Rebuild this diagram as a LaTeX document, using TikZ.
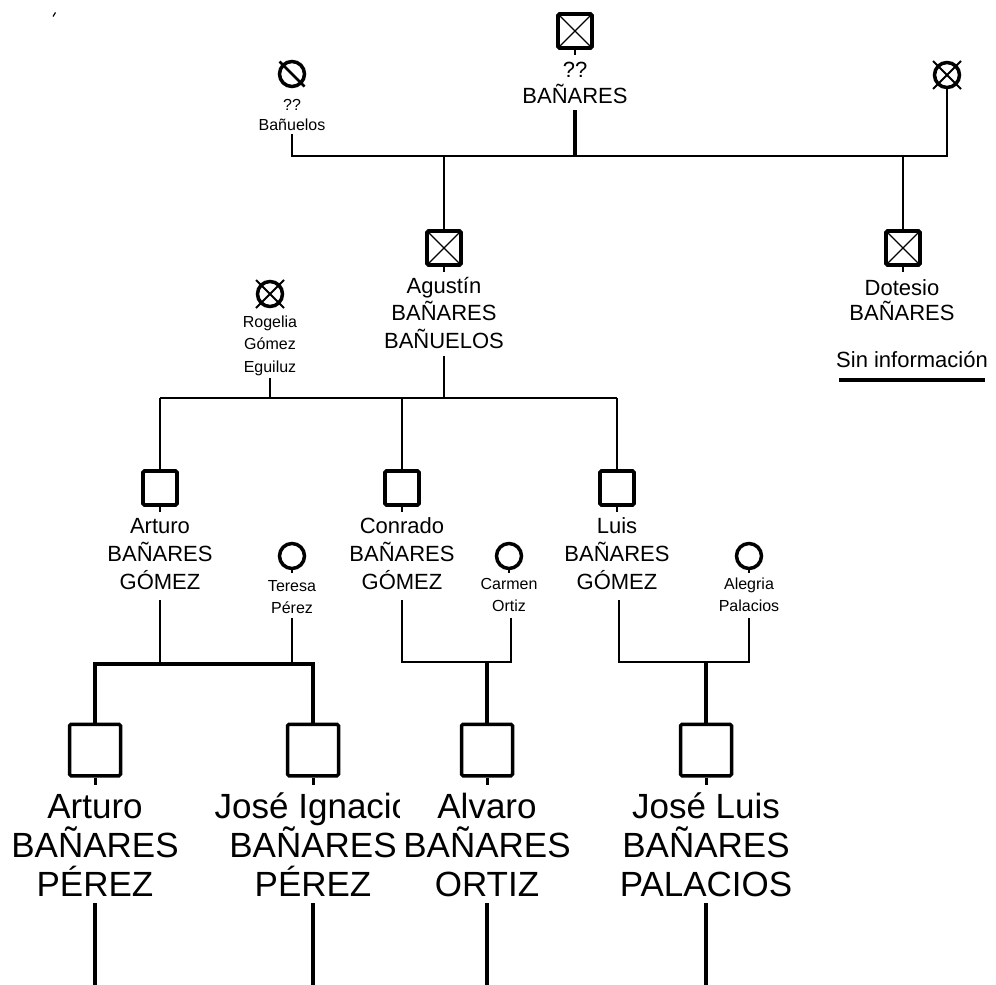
\documentclass[tikz,border=0pt]{standalone}
\usepackage{fontspec}
\setmainfont{Liberation Sans}
\usetikzlibrary{calc}
\begin{document}
\begin{tikzpicture}[x=1pt,y=-1pt,
  thinln/.style={line width=2pt},
  thickln/.style={line width=4pt},
  sq/.style={draw, line width=3.8pt, rounded corners=1.5pt, minimum size=34pt, inner sep=0pt},
  bigsq/.style={draw, line width=3.5pt, rounded corners=1.5pt, minimum width=51pt, minimum height=51.5pt, inner sep=0pt},
  xsq/.style={sq, path picture={\draw[line width=1.3pt] (path picture bounding box.north west) -- (path picture bounding box.south east) (path picture bounding box.north east) -- (path picture bounding box.south west);}},
  fem/.style={draw, circle, line width=3.5pt, minimum size=25pt, inner sep=0pt},
  smalltxt/.style={font=\fontsize{16}{21.5}\selectfont, align=center, anchor=base, inner sep=0pt},
  midtxt/.style={font=\fontsize{22}{27.5}\selectfont, align=center, anchor=base, inner sep=0pt},
  bigtxt/.style={font=\fontsize{35}{39}\selectfont, align=center, anchor=base, inner sep=0pt},
]
\useasboundingbox (0,0) rectangle (996,985);
\draw[line width=1.2pt] (53,16.5) -- (55.5,12.5);

% generation 1
\node[xsq] (gf) at (575,31) {};
\draw[thinln] (gf.south) -- ++(0,5);
\node[midtxt, font=\fontsize{22}{26}\selectfont] (gft) at (575,103) {??\\BAÑARES};
\node[fem] (gm1) at (292,74) {};
\draw[line width=2.5pt] ([shift={(-12.5,-12.5)}]gm1.center) -- ([shift={(12.5,12.5)}]gm1.center);
\node[smalltxt, font=\fontsize{16}{20}\selectfont] (gm1t) at (292,130) {??\\Bañuelos};
\node[fem] (gm2) at (947,75) {};
\draw[thinln] ([shift={(-14,-14)}]gm2.center) -- ([shift={(14,14)}]gm2.center)
              ([shift={(14,-14)}]gm2.center) -- ([shift={(-14,14)}]gm2.center);

\coordinate (gfb) at (575,110);
\coordinate (gm1b) at (292,134);
\coordinate (bar1L) at (292,156);
\coordinate (bar1R) at (947,156);
\draw[thickln] (gfb) -- (gfb |- bar1L);
\draw[thinln] (gm1b) -- (bar1L) -- (bar1R) -- (gm2.south);

% generation 2
\node[xsq] (ag) at (444,248) {};
\node[xsq] (dt) at (903,248) {};
\draw[thinln] (ag.north |- bar1L) -- (ag.north);
\draw[thinln] (dt.north |- bar1L) -- (dt.north);
\draw[thinln] (ag.south) -- ++(0,5);
\draw[thinln] (dt.south) -- ++(0,5);
\node[midtxt] (agt) at (444,348) {Agustín\\BAÑARES\\BAÑUELOS};
\node[midtxt, font=\fontsize{22}{25}\selectfont] (dtt) at (902,320) {Dotesio\\BAÑARES};
\node[midtxt] (sin) at (912,367) {Sin información};
\draw[thickln] ([xshift=3pt,yshift=-13pt]sin.base west) -- ([xshift=-3pt,yshift=-13pt]sin.base east);

\node[fem] (rg) at (270,294) {};
\draw[thinln] ([shift={(-14,-14)}]rg.center) -- ([shift={(14,14)}]rg.center)
              ([shift={(14,-14)}]rg.center) -- ([shift={(-14,14)}]rg.center);
\node[smalltxt, font=\fontsize{16}{22.5}\selectfont] (rgt) at (270,372) {Rogelia\\Gómez\\Eguiluz};

\coordinate (rgb) at (270,378);
\coordinate (agb) at (444,356);
\coordinate (bar2L) at (160,398);
\coordinate (bar2R) at (617,398);
\draw[thinln] (rgb) -- (rgb |- bar2L);
\draw[thinln] (agb) -- (agb |- bar2L);
\draw[thinln] (bar2L) -- (bar2R);

% generation 3
\node[sq] (ar) at (160,488) {};
\node[sq] (co) at (402,488) {};
\node[sq] (lu) at (617,488) {};
\foreach \n in {ar,co,lu}{
  \draw[thinln] (\n.north |- bar2L) -- (\n.north);
  \draw[thinln] (\n.south) -- ++(0,5);
}
\node[midtxt, font=\fontsize{22}{28}\selectfont] (art) at (160,589) {Arturo\\BAÑARES\\GÓMEZ};
\node[midtxt, font=\fontsize{22}{28}\selectfont] (cot) at (402,589) {Conrado\\BAÑARES\\GÓMEZ};
\node[midtxt, font=\fontsize{22}{28}\selectfont] (lut) at (617,589) {Luis\\BAÑARES\\GÓMEZ};

\node[fem] (te) at (292,556) {};
\node[fem] (ca) at (509,556) {};
\node[fem] (al) at (749,556) {};
\foreach \n in {te,ca,al}{\draw[thinln] (\n.south) -- ++(0,3);}
\node[smalltxt] (tet) at (292,613) {Teresa\\Pérez};
\node[smalltxt] (cat) at (509,611) {Carmen\\Ortiz};
\node[smalltxt] (alt) at (749,611) {Alegria\\Palacios};

% generation 4
\node[bigsq] (c1) at (95,750) {};
\node[bigsq] (c2) at (313,750) {};
\node[bigsq] (c3) at (487,750) {};
\node[bigsq] (c4) at (706,750) {};
\foreach \n in {c1,c2,c3,c4}{\draw[line width=3pt] (\n.south) -- ++(0,7);}

\coordinate (arb) at (160,600);
\coordinate (teb) at (292,618);
\coordinate (f1L) at (95,664);
\coordinate (f1R) at (313,664);
\draw[thinln] (arb) -- (arb |- f1L);
\draw[thinln] (teb) -- (teb |- f1L);
\draw[thickln] (c1.north) -- (f1L) -- (f1R) -- (c2.north);

\coordinate (cob) at (402,600);
\coordinate (cab) at (511,618);
\coordinate (f2L) at (402,662);
\coordinate (f2R) at (511,662);
\draw[thinln] (cob) -- (f2L) -- (f2R) -- (cab);
\draw[thickln] (c3.north |- f2L) -- (c3.north);

\coordinate (lub) at (619,600);
\coordinate (alb) at (749,618);
\coordinate (f3L) at (619,662);
\coordinate (f3R) at (749,662);
\draw[thinln] (lub) -- (f3L) -- (f3R) -- (alb);
\draw[thickln] (c4.north |- f3L) -- (c4.north);

\node[bigtxt] (c1t) at (95,896) {Arturo\\BAÑARES\\PÉREZ};
\begin{scope}
  \clip (200,780) rectangle (399,910);
  \node[bigtxt] (c2t) at (313,896) {José Ignacio\\BAÑARES\\PÉREZ};
\end{scope}
\node[bigtxt] (c3t) at (487,896) {Alvaro\\BAÑARES\\ORTIZ};
\node[bigtxt] (c4t) at (706,896) {José Luis\\BAÑARES\\PALACIOS};

\coordinate (c1d) at (95,903);   \coordinate (c1e) at (95,985);
\coordinate (c2d) at (313,903);  \coordinate (c2e) at (313,985);
\coordinate (c3d) at (487,903);  \coordinate (c3e) at (487,985);
\coordinate (c4d) at (706,903);  \coordinate (c4e) at (706,985);
\draw[thickln] (c1d) -- (c1e) (c2d) -- (c2e) (c3d) -- (c3e) (c4d) -- (c4e);
\end{tikzpicture}
\end{document}
